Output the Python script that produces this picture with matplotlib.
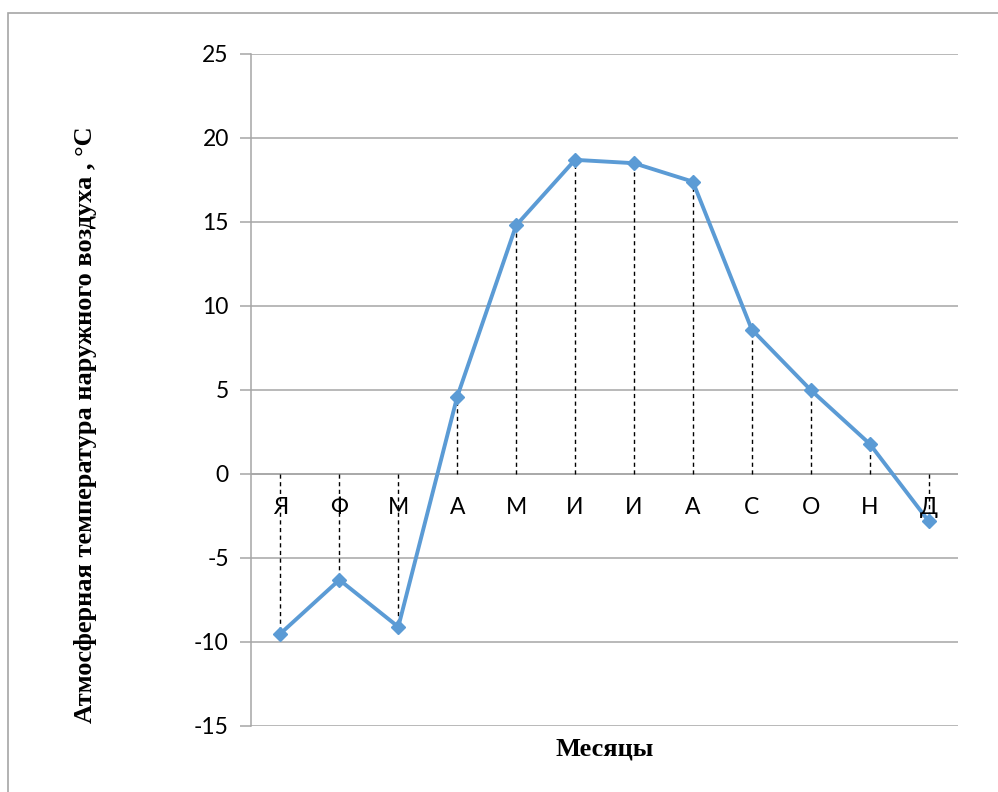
import matplotlib
matplotlib.use("Agg")
import matplotlib.pyplot as plt
from matplotlib.patches import Rectangle

# monthly mean outdoor air temperature
months = ["Я", "Ф", "М", "А", "М", "И", "И", "А", "С", "О", "Н", "Д"]
temps = [-9.5, -6.3, -9.1, 4.6, 14.8, 18.7, 18.5, 17.4, 8.6, 5.0, 1.8, -2.8]
yticks = [-15, -10, -5, 0, 5, 10, 15, 20, 25]

W, H = 998, 792
fig = plt.figure(figsize=(W / 100, H / 100), dpi=100)
fig.patches.append(Rectangle((8 / W, -0.1), 1.2, 1 - 13 / H + 0.1, transform=fig.transFigure,
                             fill=False, edgecolor="#a6a6a6", linewidth=1.2))

ax = fig.add_axes([251 / W, 1 - 726 / H, (958 - 251) / W, (726 - 54) / H])
x = list(range(len(months)))

for xi, t in zip(x, temps):
    ax.plot([xi, xi], [0, t], color="black", linestyle=(0, (3, 2.5)), linewidth=1.0, zorder=2)

ax.plot(x, temps, color="#5b9bd5", linewidth=2.8, marker="D", markersize=7, zorder=3)

ax.set_xlim(-0.5, len(months) - 0.5)
ax.set_ylim(-15, 25)
ax.set_yticks(yticks)
ax.set_yticklabels([str(v) for v in yticks], fontfamily="Lato", fontsize=16.5)
ax.grid(axis="y", color="#a6a6a6", linewidth=1.1)
ax.set_axisbelow(True)
ax.set_xticks([])
ax.axhline(0, color="#a6a6a6", linewidth=1.1, zorder=1)
for xi, m in zip(x, months):
    ax.text(xi, -2.0, m, ha="center", va="center", fontfamily="Lato", fontsize=16.5, zorder=4)

for s in ["top", "right", "bottom"]:
    ax.spines[s].set_visible(False)
ax.spines["left"].set_color("#a6a6a6")
ax.spines["left"].set_linewidth(1.1)
ax.tick_params(axis="y", length=8, color="#a6a6a6", width=1.1, pad=8)

ax.set_xlabel("Месяцы", fontfamily="Liberation Serif", fontweight="bold", fontsize=19, labelpad=8)
ax.set_ylabel("Атмосферная температура наружного воздуха , °С", fontfamily="Liberation Serif",
              fontweight="bold", fontsize=19)
ax.yaxis.set_label_coords(-0.218, 0.448)

fig.savefig("out.png", dpi=100)
